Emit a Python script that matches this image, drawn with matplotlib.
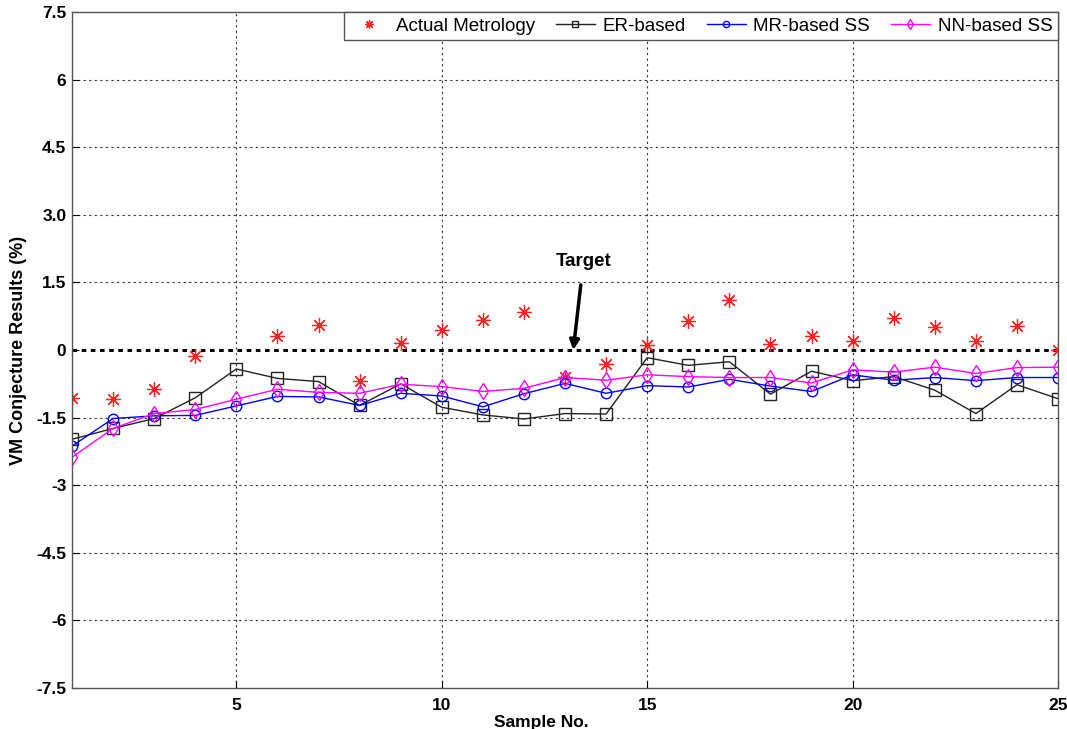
import numpy as np
import matplotlib
matplotlib.use("Agg")
import matplotlib.pyplot as plt

plt.rcParams['font.family'] = ['Liberation Sans', 'DejaVu Sans']

samples = list(range(1, 26))
actual = [-1.07, -1.09, -0.87, -0.13, np.nan, 0.31, 0.55, -0.69, 0.16, 0.44,
          0.67, 0.84, -0.59, -0.31, 0.11, 0.64, 1.11, 0.13, 0.32, 0.21,
          0.70, 0.50, 0.19, 0.54, 0.00]
er_based = [-1.98, -1.74, -1.52, -1.06, -0.42, -0.63, -0.70, -1.23, -0.75, -1.27,
            -1.44, -1.53, -1.41, -1.42, -0.17, -0.34, -0.26, -0.98, -0.47, -0.68,
            -0.59, -0.89, -1.41, -0.77, -1.08]
mr_based = [-2.13, -1.52, -1.46, -1.45, -1.24, -1.03, -1.04, -1.23, -0.96, -1.02,
            -1.26, -0.97, -0.74, -0.96, -0.79, -0.82, -0.65, -0.80, -0.92, -0.55,
            -0.67, -0.61, -0.68, -0.61, -0.61]
nn_based = [-2.38, -1.74, -1.41, -1.32, -1.09, -0.87, -0.94, -0.96, -0.76, -0.81,
            -0.92, -0.85, -0.61, -0.67, -0.55, -0.59, -0.61, -0.61, -0.73, -0.44,
            -0.49, -0.38, -0.52, -0.39, -0.38]
yticks = [-7.5, -6, -4.5, -3, -1.5, 0, 1.5, 3.0, 4.5, 6, 7.5]
ytick_labels = ['-7.5', '-6', '-4.5', '-3', '-1.5', '0', '1.5', '3.0', '4.5', '6', '7.5']
xticks = [5, 10, 15, 20, 25]

fig = plt.figure(figsize=(10.67, 7.29), dpi=100)
ax = fig.add_axes([0.0675, 0.0562, 0.9241, 0.9273])

asterisk = (8, 2, 0)
ax.plot(samples, actual, linestyle='none', marker=asterisk, color='#ff2020',
        markersize=10.5, markeredgewidth=0.9, label='Actual Metrology')
ax.plot(samples, er_based, '-', color='#222222', linewidth=1.0, marker='s',
        markersize=8, markerfacecolor='none', markeredgecolor='#222222',
        markeredgewidth=1.0, label='ER-based')
ax.plot(samples, mr_based, '-', color='#0000ff', linewidth=1.0, marker='o',
        markersize=7.5, markerfacecolor='none', markeredgecolor='#0000ff',
        markeredgewidth=1.0, label='MR-based SS')
ax.plot(samples, nn_based, '-', color='#ff00ff', linewidth=1.0, marker='d',
        markersize=8, markerfacecolor='none', markeredgecolor='#ff00ff',
        markeredgewidth=1.0, label='NN-based SS')

ax.set_xlim(1, 25)
ax.set_ylim(-7.5, 7.5)
ax.set_xticks(xticks)
ax.set_yticks(yticks)
ax.set_yticklabels(ytick_labels)
ax.tick_params(direction='in', length=5, width=0.8, labelsize=12.5)
for lbl in ax.get_xticklabels() + ax.get_yticklabels():
    lbl.set_fontweight('bold')
ax.tick_params(axis='x', pad=7)
ax.tick_params(axis='y', pad=4)

for y in yticks[1:-1]:
    if y == 0:
        ax.axhline(0, color='black', linestyle=(0, (1.5, 1.5)), linewidth=2.2, zorder=1)
    else:
        ax.axhline(y, color='#333333', linestyle=(0, (2, 3)), linewidth=0.8, zorder=0)
for x in xticks[:-1]:
    ax.axvline(x, color='#333333', linestyle=(0, (2, 3)), linewidth=0.8, zorder=0)

for s in ax.spines.values():
    s.set_color('#555555')
    s.set_linewidth(1.0)

ax.set_xlabel('Sample No.', fontsize=12.5, fontweight='bold')
ax.xaxis.set_label_coords(0.476, -0.040)
ax.set_ylabel('VM Conjecture Results (%)', fontsize=13, fontweight='bold')
ax.yaxis.set_label_coords(-0.046, 0.5)

ax.annotate('Target', xy=(13.2, 0.0), xytext=(13.45, 1.97),
            fontsize=13.5, fontweight='bold', ha='center', va='center',
            arrowprops=dict(arrowstyle='-|>', color='black', lw=2.5,
                            mutation_scale=14, shrinkA=9, shrinkB=0))

leg = ax.legend(loc='upper right', ncol=4, fontsize=13.5, frameon=True,
                fancybox=False, edgecolor='#555555', framealpha=1,
                borderaxespad=0.0, handlelength=2.1, handletextpad=0.4,
                columnspacing=1.1, borderpad=0.3, markerscale=0.6)
leg.get_frame().set_linewidth(1.0)

fig.savefig('out.png', dpi=100)
